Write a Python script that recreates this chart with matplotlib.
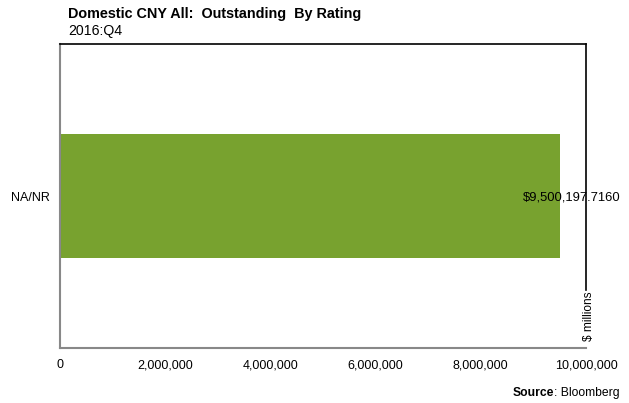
import matplotlib
matplotlib.use("Agg")
import matplotlib.pyplot as plt
from matplotlib.ticker import FuncFormatter

plt.rcParams['font.family'] = ['Liberation Sans', 'DejaVu Sans']

categories = ["NA/NR"]
values = [9500197.7160]
value_labels = ["$9,500,197.7160"]
xticks = [0, 2000000, 4000000, 6000000, 8000000, 10000000]

W, H = 629, 403
fig = plt.figure(figsize=(W/100, H/100), dpi=100)
ax = fig.add_axes([60/W, 1-348/H, (586-60)/W, (348-44)/H])

ax.barh(categories, values, height=0.405, color="#78a22f", zorder=2)
ax.set_xlim(0, 10000000)
ax.set_ylim(-0.5, 0.5)
ax.set_xticks(xticks)
ax.xaxis.set_major_formatter(FuncFormatter(lambda v, p: f"{int(v):,}"))
ax.tick_params(axis='both', length=0, labelsize=9, colors="black")
ax.tick_params(axis='x', pad=8)
ax.tick_params(axis='y', pad=7)

for s in ['left', 'bottom']:
    ax.spines[s].set_color("#888888")
    ax.spines[s].set_linewidth(1.5)
for s in ['top', 'right']:
    ax.spines[s].set_color("black")
    ax.spines[s].set_linewidth(1.2)
ax.spines['right'].set_bounds(-0.5 + (348-290)/304, 0.5)

for i, (v, lab) in enumerate(zip(values, value_labels)):
    ax.text(523/W, 1-197/H, lab, transform=fig.transFigure, fontsize=9.4,
            va='center', ha='left')

fig.text(589/W, 1-316/H, "$ millions", rotation=90, fontsize=8.6, ha='center', va='center')

fig.text(68/W, 1-14/H, "Domestic CNY All:  Outstanding  By Rating", fontsize=10.4,
         fontweight='bold', ha='left', va='center')
fig.text(68/W, 1-31/H, "2016:Q4", fontsize=10.2, ha='left', va='center')

src = fig.text(620/W, 1-393/H, ": Bloomberg", fontsize=8.7, ha='right', va='center')
fig.canvas.draw()
r = fig.canvas.get_renderer()
bb = src.get_window_extent(renderer=r)
fig.text(bb.x0/W, 1-393/H, "Source", fontsize=8.7, fontweight='bold', ha='right', va='center')

fig.savefig("out.png", dpi=100)
